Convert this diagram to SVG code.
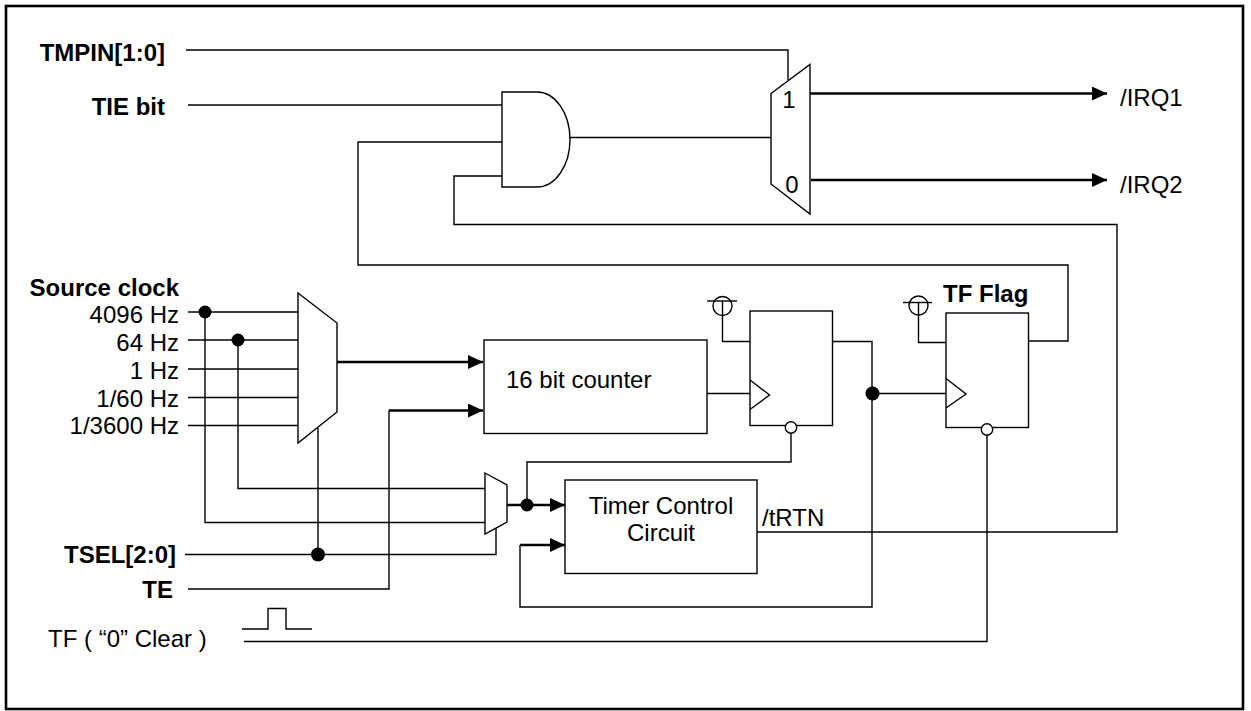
<svg xmlns="http://www.w3.org/2000/svg" width="1251" height="711" viewBox="0 0 1251 711">
<style>
.w{fill:none;stroke:#000;stroke-width:1.4}
.t{fill:none;stroke:#000;stroke-width:2.6}
.b{fill:#fff;stroke:#000;stroke-width:1.4}
.d{fill:#000}
text{font-family:"Liberation Sans",Arial,sans-serif;font-size:24px;fill:#000}
.bd{font-weight:bold}
.e{text-anchor:end}
.m{text-anchor:middle}
</style>
<defs>
<marker id="ah" markerUnits="userSpaceOnUse" markerWidth="16" markerHeight="16" refX="15" refY="7" orient="auto">
<path d="M0,0 L15,7 L0,14 Z" fill="#000"/>
</marker>
</defs>
<rect x="6" y="6" width="1237" height="703" fill="#fff" stroke="#000" stroke-width="2.6"/>

<g id="labels">
<text class="bd e" x="165" y="61">TMPIN[1:0]</text>
<text class="bd e" x="165" y="115">TIE bit</text>
<text class="bd e" x="179" y="296">Source clock</text>
<text class="e" x="179" y="323">4096 Hz</text>
<text class="e" x="179" y="351">64 Hz</text>
<text class="e" x="179" y="379">1 Hz</text>
<text class="e" x="179" y="407">1/60 Hz</text>
<text class="e" x="179" y="434">1/3600 Hz</text>
<text class="bd e" x="176" y="563">TSEL[2:0]</text>
<text class="bd e" x="173" y="598">TE</text>
<text x="48" y="647">TF ( “0” Clear )</text>
<text x="1120" y="106">/IRQ1</text>
<text x="1120" y="193">/IRQ2</text>
<text x="762" y="526">/tRTN</text>
</g>

<g id="connectors">
<polyline class="w" points="186,50 788,50 788,80"/>
<line class="w" x1="188" y1="105" x2="502" y2="105"/>
<polyline class="w" points="502,142 358,142 358,265 1068,265 1068,341 1028,341"/>
<polyline class="w" points="502,176 454,176 454,224.5 1117,224.5 1117,532 757,532"/>
<line class="w" x1="570" y1="137.5" x2="771" y2="137.5"/>
<line class="t" x1="810" y1="93.5" x2="1107" y2="93.5" marker-end="url(#ah)"/>
<line class="t" x1="811" y1="180" x2="1107" y2="180" marker-end="url(#ah)"/>

<line class="w" x1="188" y1="312" x2="298" y2="312"/>
<line class="w" x1="188" y1="340" x2="298" y2="340"/>
<line class="w" x1="188" y1="369" x2="298" y2="369"/>
<line class="w" x1="188" y1="397.5" x2="298" y2="397.5"/>
<line class="w" x1="188" y1="425.5" x2="298" y2="425.5"/>
<polyline class="w" points="205,312 205,522.5 485,522.5"/>
<polyline class="w" points="238,340 238,488.5 485,488.5"/>
<line class="w" x1="318" y1="428" x2="318" y2="554.5"/>
<polyline class="w" points="185,554.5 496,554.5 496,528"/>
<polyline class="w" points="188,589 389,589 389,410.5"/>
<line class="t" x1="389" y1="410.5" x2="483" y2="410.5" marker-end="url(#ah)"/>
<line class="t" x1="337" y1="362" x2="483" y2="362" marker-end="url(#ah)"/>

<line class="t" x1="507" y1="505" x2="565" y2="505" marker-end="url(#ah)"/>
<polyline class="w" points="527,505 527,462 791,462 791,433"/>
<polyline class="w" points="872,393.5 872,607 520,607 520,545"/>
<line class="t" x1="520" y1="545" x2="565" y2="545" marker-end="url(#ah)"/>

<line class="w" x1="707" y1="393.5" x2="750" y2="393.5"/>
<polyline class="w" points="832,341.5 872,341.5 872,393.5 946,393.5"/>
<polyline class="w" points="244,641.5 987,641.5 987,435"/>
<polyline class="w" points="242,629 268,629 268,608.5 286,608.5 286,629 312,629"/>
</g>

<g id="and-gate">
<path class="b" d="M502,92 L537,92 A33,47.5 0 0 1 537,187 L502,187 Z"/>
</g>

<g id="irq-mux">
<polygon class="b" points="771,93.5 810,64.5 810,214 771,184"/>
<text class="m" x="789" y="108">1</text>
<text class="m" x="792" y="193">0</text>
</g>

<g id="clock-mux">
<polygon class="b" points="298,293 337,323 337,412 298,443"/>
</g>

<g id="small-mux">
<polygon class="b" points="485,473 507,485 507,522 485,534"/>
</g>

<g id="counter">
<rect class="b" x="484" y="340" width="223" height="93.5"/>
<text x="506" y="388">16 bit counter</text>
</g>

<g id="timer-control">
<rect class="b" x="565" y="480" width="192" height="93.5"/>
<text class="m" x="661" y="513.5">Timer Control</text>
<text class="m" x="661" y="540.5">Circuit</text>
</g>

<g id="ff1">
<rect class="b" x="750" y="311" width="82.5" height="114.5"/>
<polyline class="w" points="750,380 769.5,395 750,409.5"/>
<circle class="b" cx="791" cy="427.5" r="5.7"/>
<polyline class="w" points="750,341.5 722.5,341.5 722.5,301"/>
<circle class="w" cx="722.5" cy="306" r="9.5"/>
<line class="w" x1="707" y1="301" x2="737" y2="301"/>
</g>

<g id="ff2">
<text class="bd" x="943" y="302">TF Flag</text>
<rect class="b" x="946" y="313" width="82.5" height="114.5"/>
<polyline class="w" points="946,378.5 966,394 946,408"/>
<circle class="b" cx="987" cy="429.5" r="5.7"/>
<polyline class="w" points="946,342.5 918.5,342.5 918.5,302.5"/>
<circle class="w" cx="918.5" cy="305.5" r="9.5"/>
<line class="w" x1="903" y1="302.5" x2="932" y2="302.5"/>
</g>

<g id="junctions">
<circle class="d" cx="205" cy="312" r="6.5"/>
<circle class="d" cx="238" cy="340" r="6.5"/>
<circle class="d" cx="318" cy="554.5" r="7"/>
<circle class="d" cx="527" cy="505" r="6.5"/>
<circle class="d" cx="872.5" cy="393.5" r="7"/>
</g>
</svg>
